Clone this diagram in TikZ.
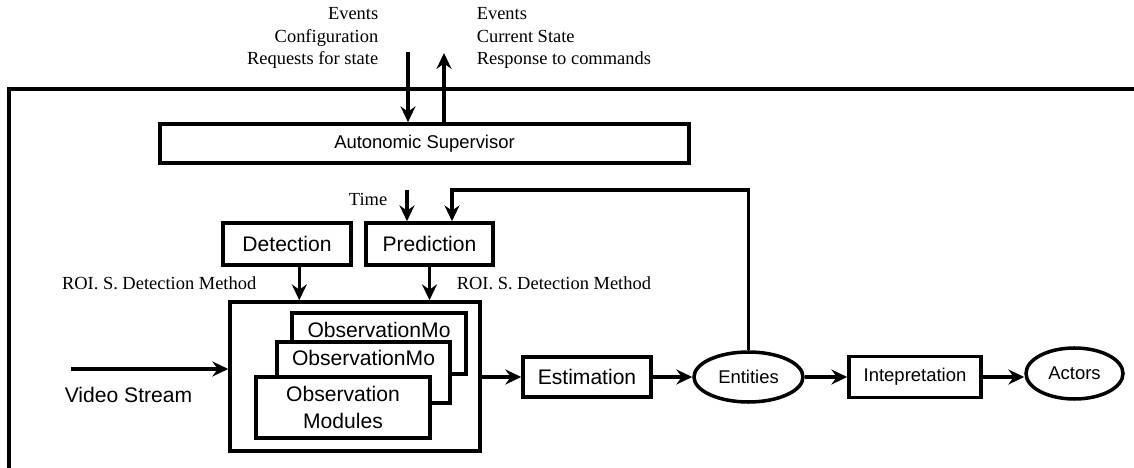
\documentclass[tikz,border=0pt]{standalone}
\usepackage{fontspec}
\setmainfont{Liberation Serif}
\setsansfont{Liberation Sans}
\usetikzlibrary{arrows.meta, shapes.geometric, positioning}

\begin{document}
\begin{tikzpicture}[line width=2pt, >={Stealth[length=9pt, width=8.5pt, inset=3pt]},
    box/.style={rectangle, draw, fill=white, inner sep=2pt, align=center, font=\sffamily\fontsize{12}{15}\selectfont},
    smallbox/.style={box, font=\sffamily\fontsize{10.5}{12.6}\selectfont},
    oval/.style={ellipse, draw, inner sep=0pt, font=\sffamily\fontsize{10.5}{12.6}\selectfont},
    note/.style={inner sep=0pt, font=\fontsize{10.5}{12.6}\selectfont}]

    \useasboundingbox (0,0) rectangle (22.68,-9.36);

    % outer frame
    \draw (0.18,-9.36) |- (22.68,-1.78);

    \node[note, align=right, anchor=east] (inText) at (7.60,-0.76) {Events\\Configuration\\Requests for state};
    \node[note, align=left, anchor=west] (outText) at (9.50,-0.76) {Events\\Current State\\Response to commands};

    \node[smallbox, minimum width=10.58cm, minimum height=0.78cm] (sup) at (8.49,-2.87) {Autonomic Supervisor};

    \coordinate (inTop) at (8.16,-1.04);
    \coordinate (outTop) at (8.88,-1.06);

    \node[box, minimum width=2.56cm, minimum height=0.84cm] (det) at (5.74,-4.88) {Detection};
    \node[box, minimum width=2.54cm, minimum height=0.84cm] (pred) at (8.59,-4.88) {Prediction};

    \node[note, anchor=east] (time) at (7.78,-3.98) {Time};
    \coordinate (timeTop) at (8.14,-3.80);
    \coordinate (fbTop) at (9.04,-3.80);

    \node[note, anchor=east] (roiL) at (5.16,-5.66) {ROI. S. Detection Method};
    \node[note, anchor=west] (roiR) at (9.10,-5.66) {ROI. S. Detection Method};

    % observation block
    \node[box, minimum width=5.0cm, minimum height=2.98cm] (cont) at (7.10,-7.53) {};
    \node[box, minimum width=3.48cm, minimum height=1.22cm,
        label={[anchor=north, inner sep=0pt, yshift=-5.5pt, font=\sffamily\fontsize{12}{15}\selectfont]north:ObservationMo}] (obsC) at (7.58,-6.87) {};
    \node[box, minimum width=3.46cm, minimum height=1.22cm,
        label={[anchor=north, inner sep=0pt, yshift=-4.5pt, font=\sffamily\fontsize{12}{15}\selectfont]north:ObservationMo}] (obsB) at (7.27,-7.45) {};
    \node[box, minimum width=3.48cm, minimum height=1.22cm] (obsA) at (6.86,-8.15) {Observation\\Modules};

    \coordinate (vsIn) at (1.42,-7.38);
    \node[font=\sffamily\fontsize{12}{15}\selectfont, inner sep=0pt] (video) at (2.57,-7.90) {Video Stream};

    \node[box, minimum width=2.56cm, minimum height=0.80cm] (est) at (11.74,-7.54) {Estimation};
    \node[oval, minimum width=2.18cm, minimum height=1.0cm] (ent) at (14.97,-7.54) {Entities};
    \node[smallbox, minimum width=2.64cm, minimum height=0.82cm] (interp) at (18.30,-7.54) {Intepretation};
    \node[oval, minimum width=1.94cm, minimum height=1.02cm] (actors) at (21.49,-7.47) {Actors};

    \path[->]
    (inTop) edge (inTop |- sup.north)
    (outTop |- sup.north) edge (outTop)
    (timeTop) edge (timeTop |- pred.north)
    ([xshift=7pt]det.south) edge ([xshift=7pt]det.south |- cont.north)
    (pred.south) edge (pred.south |- cont.north)
    (vsIn) edge (vsIn -| cont.west)
    (cont.east |- est.west) edge (est.west)
    (est.east) edge (ent.west)
    (ent.east) edge (interp.west)
    (interp.east) edge (interp.east -| actors.west);

    \draw[->] (ent.north) |- (fbTop) -- (fbTop |- pred.north);

\end{tikzpicture}
\end{document}
